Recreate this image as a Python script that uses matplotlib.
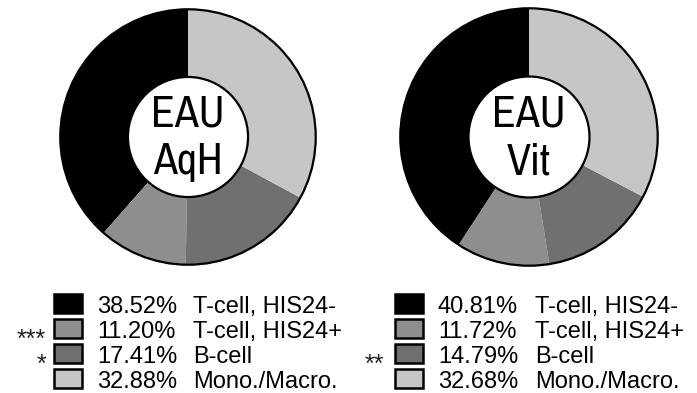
import matplotlib
matplotlib.use("Agg")
import matplotlib.pyplot as plt
from matplotlib.patches import Circle, Rectangle
from matplotlib import font_manager

# ---- data ----
categories = ["T-cell, HIS24-", "T-cell, HIS24+", "B-cell", "Mono./Macro."]
colors = ["#000000", "#8e8e8e", "#707070", "#c6c6c6"]
aqh_values = [38.52, 11.20, 17.41, 32.88]
vit_values = [40.81, 11.72, 14.79, 32.68]
aqh_stars = ["", "***", "*", ""]
vit_stars = ["", "", "**", ""]
titles = [["EAU", "AqH"], ["EAU", "Vit"]]

W, H = 697, 393
fig = plt.figure(figsize=(W / 100, H / 100), dpi=100)
fig.patch.set_facecolor("white")

names = {f.name for f in font_manager.fontManager.ttflist}

def pick(prefs):
    for p in prefs:
        if p in names:
            return p
    return "DejaVu Sans"

main_font = pick(["Liberation Sans", "Arimo", "Nimbus Sans", "DejaVu Sans"])
narrow_font = pick(["Nimbus Sans Narrow", "Liberation Sans Narrow", "Arial Narrow",
                    "Archivo Narrow", "Roboto Condensed", "Liberation Sans"])

def donut(cx, cy, r, values, title):
    ax = fig.add_axes([(cx - r) / W, 1 - (cy + r) / H, 2 * r / W, 2 * r / H])
    inner = 0.47
    ax.pie(values, colors=colors, startangle=90, counterclock=True, radius=1.0,
           wedgeprops=dict(width=1 - inner, edgecolor="none", linewidth=0))
    ax.add_patch(Circle((0, 0), 1.0, fill=False, edgecolor="black", lw=1.6))
    ax.add_patch(Circle((0, 0), inner, facecolor="white", edgecolor="black", lw=1.6))
    ax.text(0, 0.081, title[0], ha="center", va="baseline", fontsize=31.5,
            family=narrow_font)
    ax.text(0, -0.29, title[1], ha="center", va="baseline", fontsize=31.5,
            family=narrow_font)
    ax.set_xlim(-1.01, 1.01)
    ax.set_ylim(-1.01, 1.01)
    ax.set_aspect("equal")
    ax.axis("off")

donut(188, 137, 129, aqh_values, titles[0])
donut(529, 137, 130, vit_values, titles[1])

# legend overlay in pixel coordinates
lax = fig.add_axes([0, 0, 1, 1])
lax.set_xlim(0, W)
lax.set_ylim(H, 0)
lax.axis("off")

def legend(x_box, x_pct, x_lab, x_star, values, stars):
    for i, (cat, col, v, s) in enumerate(zip(categories, colors, values, stars)):
        base = 313 + 25 * i
        lax.add_patch(Rectangle((x_box, base - 19), 28, 19, facecolor=col,
                                edgecolor="black", lw=1.8))
        lax.text(x_pct, base, f"{v:.2f}%", ha="left", va="baseline",
                 fontsize=17, family=main_font)
        lax.text(x_lab, base, cat, ha="left", va="baseline",
                 fontsize=17, family=main_font)
        if s:
            lax.text(x_star, base + 9, s, ha="right", va="baseline",
                     fontsize=18, family=main_font, color="#222222")

legend(54, 97, 193, 46, aqh_values, aqh_stars)
legend(395, 438, 535, 384, vit_values, vit_stars)

fig.savefig("out.png", dpi=100, facecolor="white")
